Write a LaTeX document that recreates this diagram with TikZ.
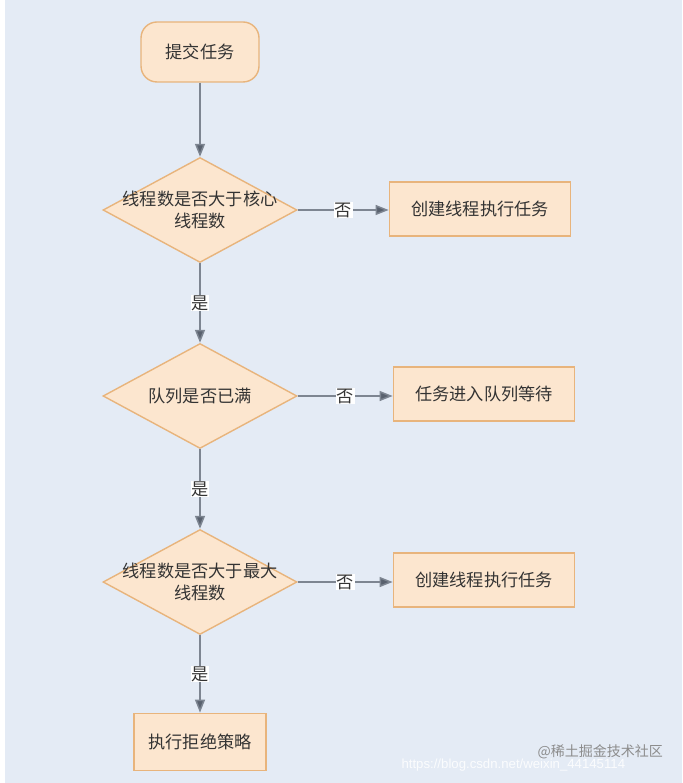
\documentclass[tikz,border=0pt]{standalone}
\usepackage{fontspec}
\setmainfont{Noto Sans CJK SC}
\newfontfamily\latinf{Liberation Sans}
\usetikzlibrary{shapes.geometric,arrows.meta}
\definecolor{bg}{HTML}{E4EBF5}
\definecolor{pfill}{HTML}{FCE6CF}
\definecolor{pline}{HTML}{E8B47C}
\definecolor{aline}{HTML}{7D8591}
\definecolor{atip}{HTML}{59616E}
\definecolor{txt}{HTML}{333333}
\tikzset{
  x=1pt,y=-1pt,
  every node/.style={font=\fontsize{17.2}{21.5}\selectfont, text=txt},
  startbox/.style={draw=pline, fill=pfill, line width=1.4pt, rounded corners=16pt, minimum width=118pt, minimum height=60pt, inner sep=0pt},
  procbox/.style={draw=pline, fill=pfill, line width=1.8pt, minimum width=181pt, minimum height=54pt, inner sep=0pt},
  dia/.style={draw=pline, fill=pfill, line width=1.4pt, diamond, minimum width=194pt, minimum height=105pt, inner sep=0pt},
  diatext/.style={align=center, font=\fontsize{17.2}{21.5}\selectfont, text=txt},
  conn/.style={draw=aline, line width=1.5pt, -{Triangle[width=10pt,length=13pt,fill=atip]}},
  lab/.style={fill=white, inner sep=0.8pt, font=\fontsize{17.2}{18}\selectfont}
}
\begin{document}
\begin{tikzpicture}
\useasboundingbox (0,0) rectangle (682,783);
\fill[white] (0,0) rectangle (682,783);
\fill[bg] (5,0) rectangle (682,783);

\node[startbox] (start) at (200,52) {提交任务};
\node[dia, label={[diatext]center:线程数是否大于核心\\线程数}] (d1) at (200,210) {};
\node[procbox] (b1) at (480,209) {创建线程执行任务};
\node[dia, label={[diatext]center:队列是否已满}] (d2) at (200,396) {};
\node[procbox] (b2) at (484,394) {任务进入队列等待};
\node[dia, label={[diatext]center:线程数是否大于最大\\线程数}] (d3) at (200,582) {};
\node[procbox] (b3) at (484,580) {创建线程执行任务};
\node[procbox, minimum width=132pt, minimum height=57pt] (b4) at (200,742) {执行拒绝策略};

\draw[conn] (start.south) -- (d1.north);
\draw[conn] (d1.east) -- node[lab, midway] {否} (b1.west |- d1.east);
\draw[conn] (d1.south) -- node[lab, midway] {是} (d2.north);
\draw[conn] (d2.east) -- node[lab, midway] {否} (b2.west |- d2.east);
\draw[conn] (d2.south) -- node[lab, midway] {是} (d3.north);
\draw[conn] (d3.east) -- node[lab, midway] {否} (b3.west |- d3.east);
\draw[conn] (d3.south) -- node[lab, midway] {是} (b4.north);

\node[anchor=west, font=\fontsize{14}{16}\selectfont, text=black!45] (wm1) at (534,752) {@稀土掘金技术社区};
\node[anchor=west, font=\latinf\fontsize{13.2}{15}\selectfont, text=white, opacity=0.85] (wm2) at (398,765) {https://blog.csdn.net/weixin\_44145114};
\end{tikzpicture}
\end{document}
